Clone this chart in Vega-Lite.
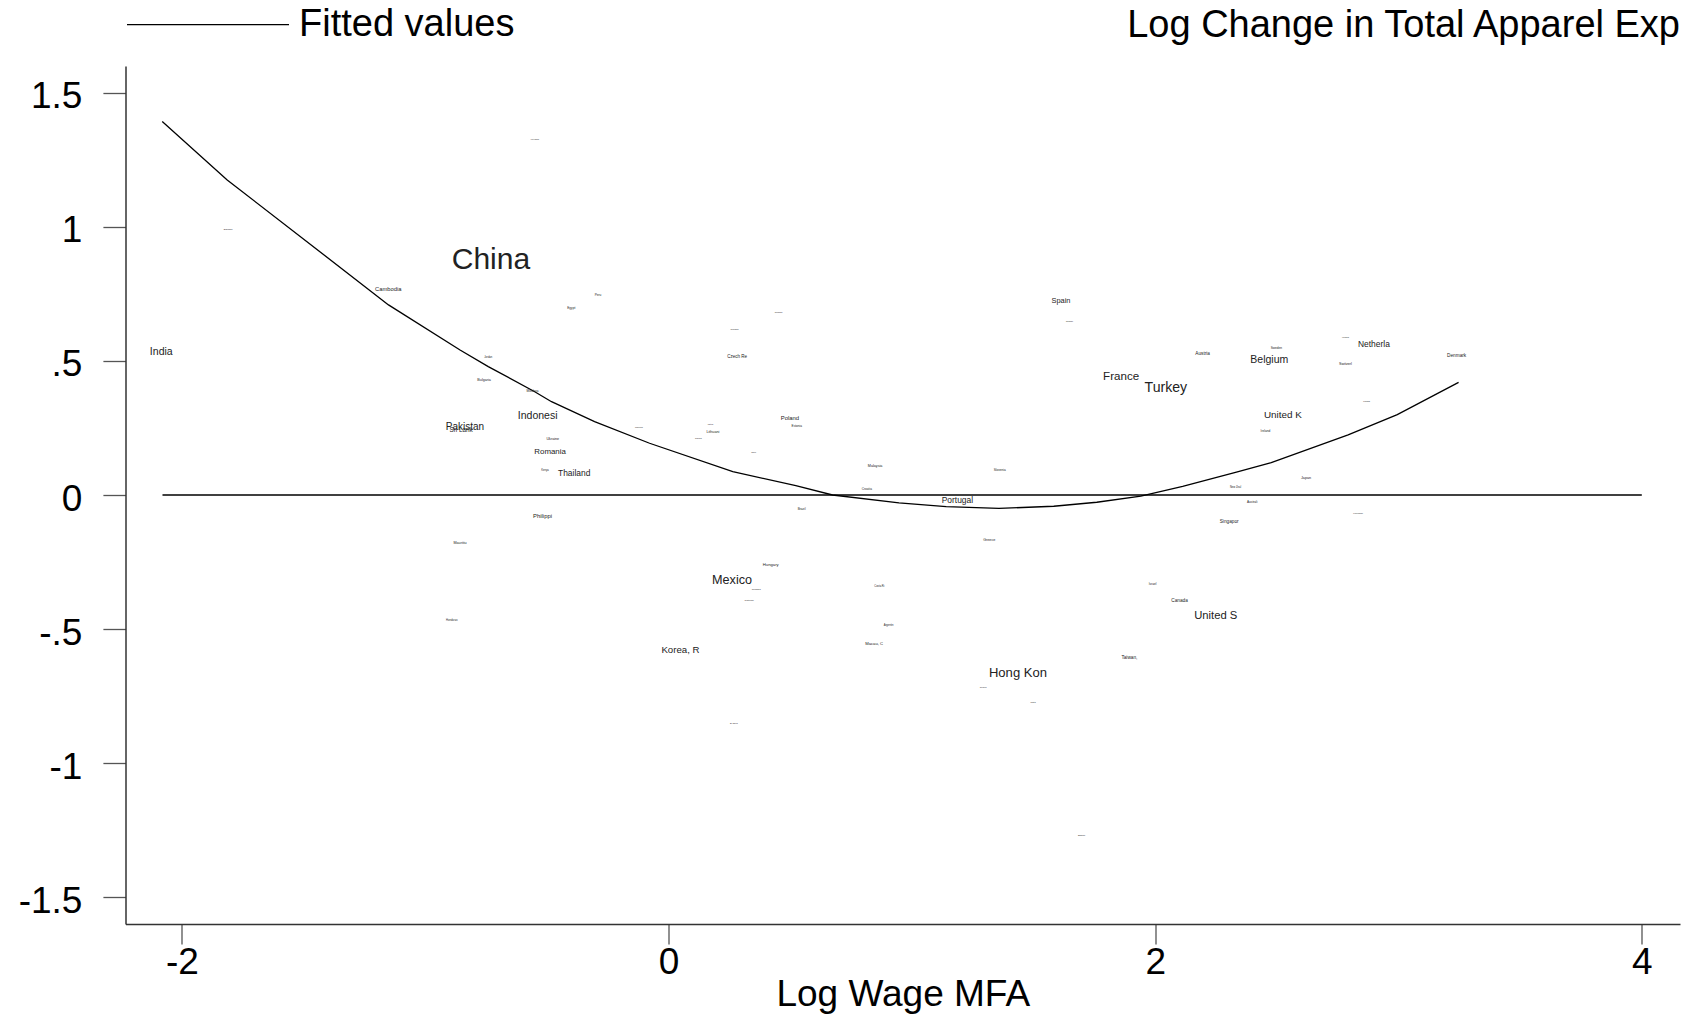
{
  "$schema": "https://vega.github.io/schema/vega-lite/v6.json",
  "autosize": {"type": "none"},
  "padding": {"left": 125.5, "top": 66, "right": 8, "bottom": 91},
  "width": 1554.5,
  "height": 858,
  "title": {"text": "Log Change in Total Apparel Exp", "anchor": "end", "frame": "group", "orient": "top", "baseline": "alphabetic", "offset": -69, "fontSize": 38, "font": "Liberation Sans", "fontWeight": "normal", "color": "#000"},
  "config": {
    "view": {"stroke": null},
    "font": "Liberation Sans",
    "axis": {"grid": false, "labelFont": "Liberation Sans", "titleFont": "Liberation Sans", "labelColor": "#000", "titleColor": "#000", "domainColor": "#333", "domainWidth": 1.5, "tickColor": "#555", "tickWidth": 1.3, "labelFontSize": 37, "titleFontSize": 37, "titleFontWeight": "normal"}
  },
  "datasets": {
    "countries": [
      {"country": "India", "logwage": -2.085, "dlogexp": 0.535, "weight": 0.351},
      {"country": "Banglade", "logwage": -1.810, "dlogexp": 0.991, "weight": 0.07},
      {"country": "Cambodia", "logwage": -1.152, "dlogexp": 0.769, "weight": 0.193},
      {"country": "China", "logwage": -0.730, "dlogexp": 0.877, "weight": 1.0},
      {"country": "Viet Nam", "logwage": -0.550, "dlogexp": 1.327, "weight": 0.07},
      {"country": "Peru", "logwage": -0.290, "dlogexp": 0.748, "weight": 0.105},
      {"country": "Egypt", "logwage": -0.400, "dlogexp": 0.698, "weight": 0.105},
      {"country": "Jordan", "logwage": -0.741, "dlogexp": 0.512, "weight": 0.088},
      {"country": "Bulgaria", "logwage": -0.758, "dlogexp": 0.428, "weight": 0.123},
      {"country": "Moldova", "logwage": -0.559, "dlogexp": 0.389, "weight": 0.105},
      {"country": "Indonesi", "logwage": -0.538, "dlogexp": 0.296, "weight": 0.351},
      {"country": "Pakistan", "logwage": -0.837, "dlogexp": 0.255, "weight": 0.333},
      {"country": "Sri Lank", "logwage": -0.853, "dlogexp": 0.241, "weight": 0.211},
      {"country": "Ukraine", "logwage": -0.476, "dlogexp": 0.210, "weight": 0.123},
      {"country": "Romania", "logwage": -0.487, "dlogexp": 0.159, "weight": 0.263},
      {"country": "Kenya", "logwage": -0.508, "dlogexp": 0.091, "weight": 0.088},
      {"country": "Thailand", "logwage": -0.388, "dlogexp": 0.082, "weight": 0.281},
      {"country": "Morocco", "logwage": -0.122, "dlogexp": 0.254, "weight": 0.07},
      {"country": "Latvia", "logwage": 0.172, "dlogexp": 0.265, "weight": 0.07},
      {"country": "Lithuani", "logwage": 0.182, "dlogexp": 0.236, "weight": 0.123},
      {"country": "Tunisia", "logwage": 0.122, "dlogexp": 0.212, "weight": 0.07},
      {"country": "Chile", "logwage": 0.350, "dlogexp": 0.160, "weight": 0.07},
      {"country": "Poland", "logwage": 0.499, "dlogexp": 0.289, "weight": 0.196},
      {"country": "Estonia", "logwage": 0.527, "dlogexp": 0.257, "weight": 0.105},
      {"country": "Czech Re", "logwage": 0.282, "dlogexp": 0.514, "weight": 0.151},
      {"country": "Slovakia", "logwage": 0.271, "dlogexp": 0.618, "weight": 0.07},
      {"country": "Russian", "logwage": 0.452, "dlogexp": 0.682, "weight": 0.07},
      {"country": "Malaysia", "logwage": 0.849, "dlogexp": 0.107, "weight": 0.123},
      {"country": "Croatia", "logwage": 0.815, "dlogexp": 0.024, "weight": 0.105},
      {"country": "Brazil", "logwage": 0.547, "dlogexp": -0.051, "weight": 0.105},
      {"country": "Philippi", "logwage": -0.518, "dlogexp": -0.077, "weight": 0.196},
      {"country": "Mauritiu", "logwage": -0.857, "dlogexp": -0.180, "weight": 0.123},
      {"country": "Hungary", "logwage": 0.420, "dlogexp": -0.261, "weight": 0.14},
      {"country": "Mexico", "logwage": 0.261, "dlogexp": -0.317, "weight": 0.421},
      {"country": "Colombia", "logwage": 0.360, "dlogexp": -0.352, "weight": 0.07},
      {"country": "Guatemal", "logwage": 0.331, "dlogexp": -0.392, "weight": 0.07},
      {"country": "Honduras", "logwage": -0.891, "dlogexp": -0.466, "weight": 0.088},
      {"country": "Korea, R", "logwage": 0.049, "dlogexp": -0.578, "weight": 0.323},
      {"country": "El Salva", "logwage": 0.268, "dlogexp": -0.851, "weight": 0.07},
      {"country": "Costa Ri", "logwage": 0.866, "dlogexp": -0.340, "weight": 0.088},
      {"country": "Argentin", "logwage": 0.904, "dlogexp": -0.486, "weight": 0.088},
      {"country": "Macau, C", "logwage": 0.845, "dlogexp": -0.556, "weight": 0.14},
      {"country": "Portugal", "logwage": 1.187, "dlogexp": -0.020, "weight": 0.281},
      {"country": "Greece", "logwage": 1.318, "dlogexp": -0.169, "weight": 0.123},
      {"country": "Slovenia", "logwage": 1.361, "dlogexp": 0.093, "weight": 0.105},
      {"country": "Spain", "logwage": 1.613, "dlogexp": 0.722, "weight": 0.246},
      {"country": "Norway", "logwage": 1.648, "dlogexp": 0.648, "weight": 0.07},
      {"country": "Austria", "logwage": 2.195, "dlogexp": 0.526, "weight": 0.158},
      {"country": "Sweden", "logwage": 2.498, "dlogexp": 0.547, "weight": 0.105},
      {"country": "Belgium", "logwage": 2.469, "dlogexp": 0.504, "weight": 0.351},
      {"country": "Iceland", "logwage": 2.782, "dlogexp": 0.591, "weight": 0.07},
      {"country": "Netherla", "logwage": 2.899, "dlogexp": 0.562, "weight": 0.281},
      {"country": "Switzerl", "logwage": 2.782, "dlogexp": 0.488, "weight": 0.123},
      {"country": "Denmark", "logwage": 3.239, "dlogexp": 0.518, "weight": 0.158},
      {"country": "France", "logwage": 1.860, "dlogexp": 0.439, "weight": 0.386},
      {"country": "Turkey", "logwage": 2.044, "dlogexp": 0.400, "weight": 0.47},
      {"country": "Finland", "logwage": 2.869, "dlogexp": 0.350, "weight": 0.07},
      {"country": "United K", "logwage": 2.525, "dlogexp": 0.299, "weight": 0.33},
      {"country": "Ireland", "logwage": 2.453, "dlogexp": 0.239, "weight": 0.105},
      {"country": "Japan", "logwage": 2.620, "dlogexp": 0.065, "weight": 0.123},
      {"country": "New Zeal", "logwage": 2.330, "dlogexp": 0.029, "weight": 0.088},
      {"country": "Australi", "logwage": 2.399, "dlogexp": -0.025, "weight": 0.105},
      {"country": "Luxembou", "logwage": 2.834, "dlogexp": -0.065, "weight": 0.07},
      {"country": "Singapor", "logwage": 2.304, "dlogexp": -0.102, "weight": 0.158},
      {"country": "Israel", "logwage": 1.989, "dlogexp": -0.333, "weight": 0.105},
      {"country": "Canada", "logwage": 2.100, "dlogexp": -0.394, "weight": 0.158},
      {"country": "United S", "logwage": 2.249, "dlogexp": -0.453, "weight": 0.375},
      {"country": "Taiwan,", "logwage": 1.894, "dlogexp": -0.607, "weight": 0.158},
      {"country": "Hong Kon", "logwage": 1.436, "dlogexp": -0.663, "weight": 0.435},
      {"country": "Cyprus", "logwage": 1.293, "dlogexp": -0.716, "weight": 0.07},
      {"country": "Malta", "logwage": 1.498, "dlogexp": -0.770, "weight": 0.07},
      {"country": "Bahrain", "logwage": 1.697, "dlogexp": -1.269, "weight": 0.07}
    ],
    "fitted": [
      {"logwage": -2.081, "fit": 1.393},
      {"logwage": -1.814, "fit": 1.175},
      {"logwage": -1.151, "fit": 0.709},
      {"logwage": -0.857, "fit": 0.541},
      {"logwage": -0.741, "fit": 0.479},
      {"logwage": -0.550, "fit": 0.385},
      {"logwage": -0.481, "fit": 0.348},
      {"logwage": -0.304, "fit": 0.274},
      {"logwage": -0.078, "fit": 0.193},
      {"logwage": 0.264, "fit": 0.087},
      {"logwage": 0.523, "fit": 0.035},
      {"logwage": 0.674, "fit": 0.0},
      {"logwage": 0.947, "fit": -0.029},
      {"logwage": 1.141, "fit": -0.043},
      {"logwage": 1.358, "fit": -0.050},
      {"logwage": 1.583, "fit": -0.042},
      {"logwage": 1.760, "fit": -0.027},
      {"logwage": 1.941, "fit": -0.004},
      {"logwage": 2.113, "fit": 0.032},
      {"logwage": 2.334, "fit": 0.085},
      {"logwage": 2.477, "fit": 0.121},
      {"logwage": 2.793, "fit": 0.224},
      {"logwage": 2.995, "fit": 0.300},
      {"logwage": 3.247, "fit": 0.420}
    ],
    "zero": [
      {"x0": -2.08, "x1": 4.0, "y": 0}
    ]
  },
  "layer": [
    {
      "data": {"name": "zero"},
      "mark": {"type": "rule", "color": "#000", "strokeWidth": 1.3},
      "encoding": {
        "x": {"field": "x0", "type": "quantitative"},
        "x2": {"field": "x1"},
        "y": {"field": "y", "type": "quantitative"}
      }
    },
    {
      "data": {"name": "fitted"},
      "mark": {"type": "line", "strokeWidth": 1.3, "interpolate": "linear"},
      "encoding": {
        "x": {"field": "logwage", "type": "quantitative", "scale": {"domain": [-2.232, 4.157], "nice": false, "zero": false},
              "axis": {"values": [-2, 0, 2, 4], "title": "Log Wage MFA", "tickSize": 20, "labelPadding": 0, "titlePadding": -4, "labelExpr": "(datum.value < 0 ? '-' : '') + replace(format(abs(datum.value), '~g'), '0.', '.')"}},
        "y": {"field": "fit", "type": "quantitative", "scale": {"domain": [-1.6, 1.6], "nice": false, "zero": false},
              "axis": {"values": [-1.5, -1, -0.5, 0, 0.5, 1, 1.5], "title": null, "tickSize": 22.6, "labelPadding": 21, "labelOffset": 4, "labelExpr": "(datum.value < 0 ? '-' : '') + replace(format(abs(datum.value), '~g'), '0.', '.')"}},
        "color": {"datum": "Fitted values", "type": "nominal", "scale": {"range": ["#000"]},
                  "legend": {"title": null, "orient": "none", "legendX": -13.5, "legendY": -60.4, "padding": 0, "symbolType": "M-1,0H39.5", "symbolSize": 64, "symbolStrokeWidth": 1.4, "symbolStrokeColor": "#000", "symbolFillColor": "transparent", "labelFontSize": 38, "labelFont": "Liberation Sans", "labelColor": "#000", "labelOffset": 149, "labelLimit": 0}}
      }
    },
    {
      "data": {"name": "countries"},
      "mark": {"type": "text", "align": "center", "baseline": "middle", "font": "Liberation Sans", "fill": "#222"},
      "encoding": {
        "x": {"field": "logwage", "type": "quantitative"},
        "y": {"field": "dlogexp", "type": "quantitative"},
        "text": {"field": "country"},
        "size": {"field": "weight", "type": "quantitative", "scale": {"type": "linear", "domain": [0, 1], "range": [0, 30], "zero": true}, "legend": null}
      }
    }
  ]
}
